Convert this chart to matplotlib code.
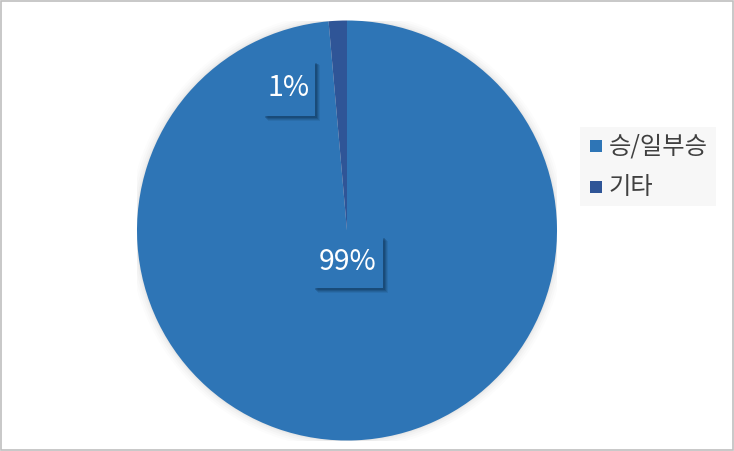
import matplotlib.pyplot as plt
from matplotlib.patches import Rectangle, Circle

plt.rcParams['font.family'] = ['Noto Sans CJK KR', 'DejaVu Sans']

# data
labels = ['승/일부승', '기타']
values = [98.6, 1.4]
pct_text = ['99%', '1%']
colors = ['#2E75B6', '#2F5597']

W, H = 734, 451
fig = plt.figure(figsize=(W / 100, H / 100), dpi=100)


def fx(px):
    return px / W


def fy(py):
    return 1 - py / H


fig.patches.append(Rectangle((0.001, 0.002), 0.997, 0.995, transform=fig.transFigure,
                             fill=False, edgecolor='#BFBFBF', linewidth=1.2))

ax = fig.add_axes([fx(137), fy(441), 420 / W, 421 / H])

# soft shadow around the pie
for r, a in [(1.04, 0.025), (1.03, 0.03), (1.02, 0.04), (1.01, 0.05), (1.004, 0.06)]:
    ax.add_patch(Circle((0, 0), r, color='#808080', alpha=a, lw=0, zorder=0))

wedges, _ = ax.pie(values, colors=colors, startangle=90, counterclock=False,
                   radius=1, wedgeprops=dict(linewidth=0))
for w in wedges:
    w.set_zorder(1)
ax.set_xlim(-1.0, 1.0)
ax.set_ylim(-1.0, 1.0)
ax.set_aspect('equal')
ax.axis('off')

# data labels: box + soft drop shadow (pixel positions converted to data units)
ppu = 210.0  # pixels per data unit
label_pos = [(348, 262), (289, 88)]
box_size = [(70, 52), (52, 55)]
for (cx, cy), (bw, bh), t in zip(label_pos, box_size, pct_text):
    x = (cx - 347) / ppu
    y = (230.5 - cy) / ppu
    w = bw / ppu
    h = bh / ppu
    for k, a in [(5, 0.10), (4, 0.15), (3, 0.2), (2, 0.25)]:
        ax.add_patch(Rectangle((x - w / 2 + k / ppu, y - h / 2 - k / ppu), w, h,
                               fc='#0B2A48', ec='none', alpha=a, zorder=2))
    ax.add_patch(Rectangle((x - w / 2, y - h / 2), w, h, fc=colors[0], ec='none', zorder=3))
    ax.text(x, y, t, ha='center', va='center', fontsize=20.5, color='white', zorder=4)

# legend
fig.patches.append(Rectangle((fx(580), fy(206)), 136 / W, 79 / H, transform=fig.transFigure,
                             fc='#F7F7F7', ec='none'))
leg_y = [146, 187]
for yy, c, lab in zip(leg_y, colors, labels):
    fig.patches.append(Rectangle((fx(590), fy(yy + 6)), 12 / W, 12 / H,
                                 transform=fig.transFigure, fc=c, ec='none'))
    fig.text(fx(609), fy(yy), lab, ha='left', va='center', fontsize=17.5, color='#404040')

fig.savefig('out.png', dpi=100)
